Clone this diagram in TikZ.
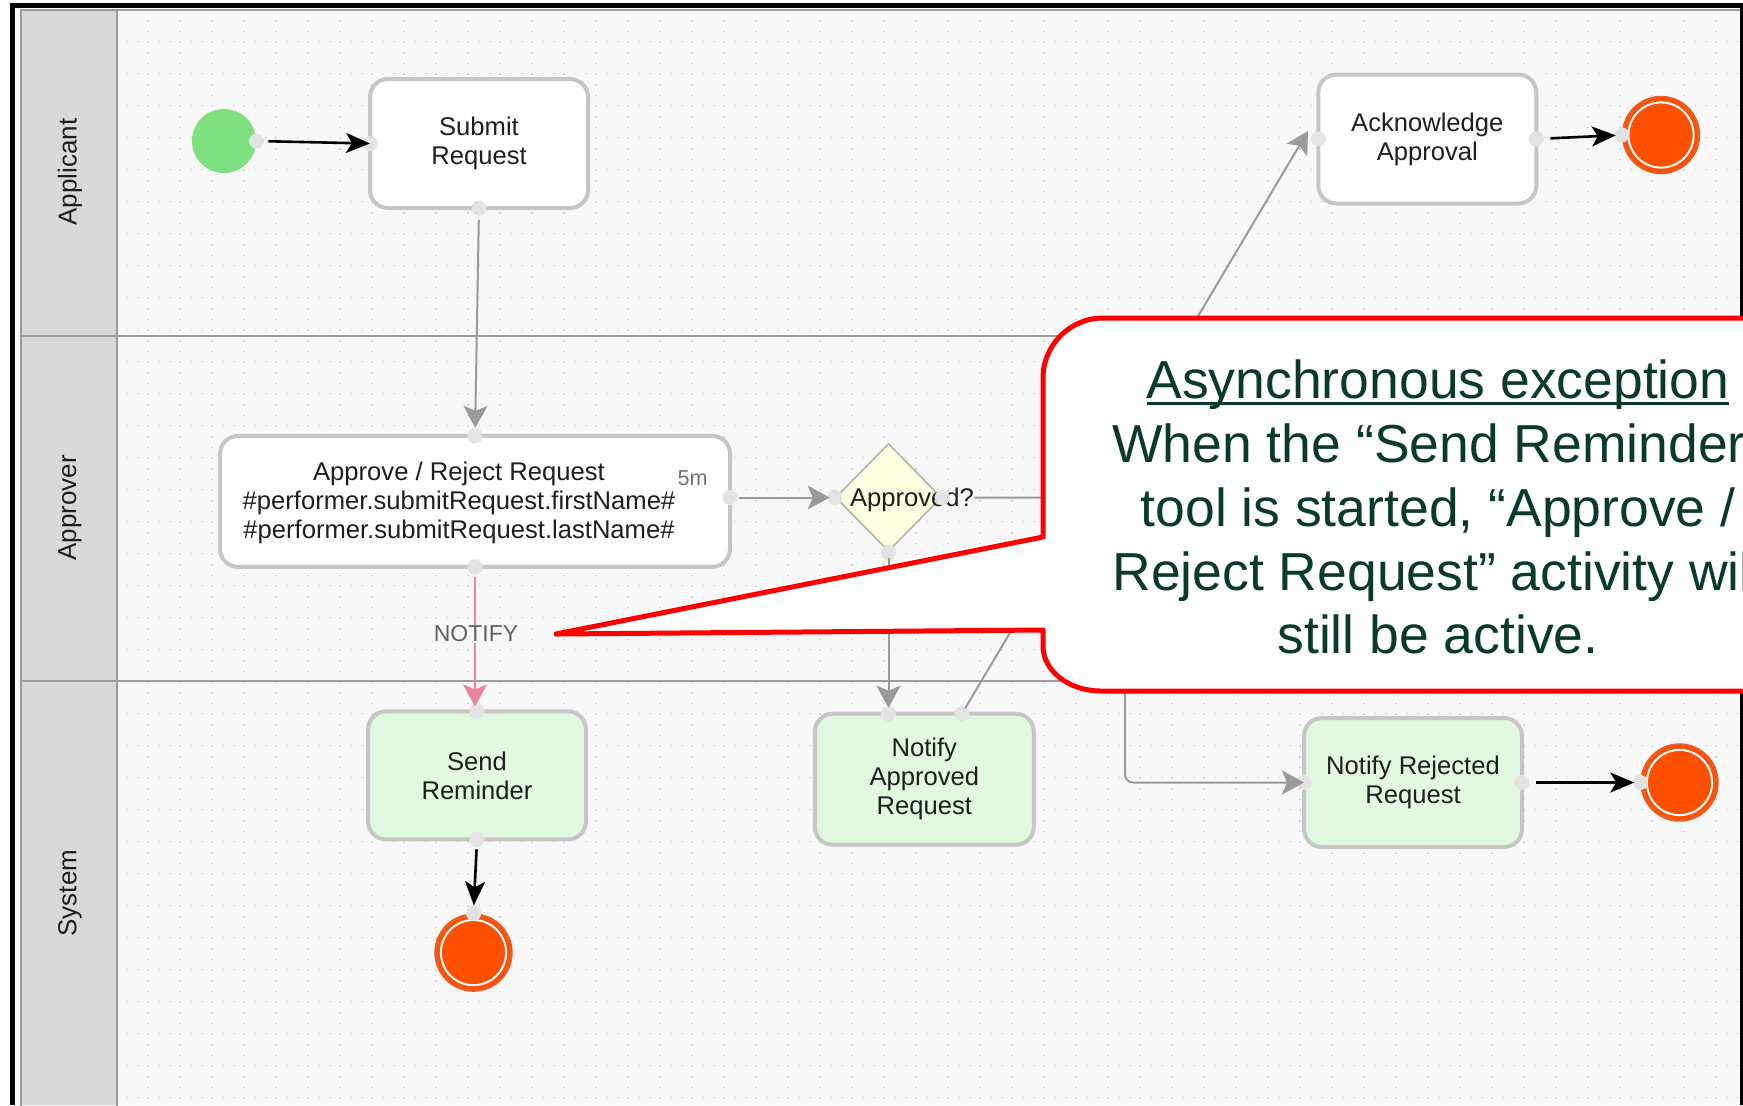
\documentclass[tikz,border=0pt]{standalone}
\usepackage{fontspec}
\setmainfont{Liberation Sans}
\usetikzlibrary{arrows.meta,shapes.geometric}
\definecolor{bgc}{HTML}{F8F8F8}
\definecolor{dotc}{HTML}{D2D2D2}
\definecolor{hdrc}{HTML}{D9D9D9}
\definecolor{lanec}{HTML}{9C9C9C}
\definecolor{boxgray}{HTML}{C6C6C6}
\definecolor{sysgreen}{HTML}{E2F8E0}
\definecolor{gwfill}{HTML}{FDFDE0}
\definecolor{gwdraw}{HTML}{B4B4A4}
\definecolor{conng}{HTML}{9A9A9A}
\definecolor{pinkc}{HTML}{E8849C}
\definecolor{portc}{HTML}{E3E3E3}
\definecolor{startg}{HTML}{7FE07F}
\definecolor{endo}{HTML}{FF5000}
\definecolor{endr}{HTML}{EE5A24}
\definecolor{txtc}{HTML}{1E1E1E}
\definecolor{calred}{HTML}{FF0000}
\definecolor{caltxt}{HTML}{0A3A2C}
\newcommand\myul[1]{\setbox0\hbox{#1}\rlap{\rule[-3.6pt]{\wd0}{1.7pt}}\box0}
\tikzset{
  task/.style={draw=boxgray, line width=2pt, rounded corners=9pt, fill=white,
    inner sep=0pt, outer sep=0pt, align=center, text=txtc,
    font=\fontsize{12.8}{14.5}\selectfont},
  systask/.style={task, fill=sysgreen},
  lbl/.style={inner sep=0pt, align=center, text=txtc, font=\fontsize{12.8}{14.5}\selectfont},
  lanelbl/.style={inner sep=0pt, rotate=90, text=txtc, font=\fontsize{13}{15}\selectfont},
  endev/.style={circle, fill=endo, draw=endr, line width=1.2pt, minimum size=38pt, inner sep=0pt},
  garrow/.style={draw=conng, line width=1pt, -{Stealth[length=11pt,width=12pt,inset=2.5pt]}},
  parrow/.style={draw=pinkc, line width=0.9pt, -{Stealth[length=11pt,width=12pt,inset=2.5pt]}},
  barrow/.style={draw=black, line width=1.3pt, -{Stealth[length=12pt,width=10pt,inset=3pt]}},
  gridln/.style={draw=dotc, line width=0.7pt, dash pattern=on 0.7pt off 4.633pt},
  caltext/.style={anchor=base, inner sep=0pt, text=caltxt, font=\fontsize{26.75}{32}\selectfont},
  portdot/.style={fill=portc}
}
\begin{document}
\begin{tikzpicture}[x=0.5pt,y=-0.5pt]
\useasboundingbox (0,0) rectangle (1743,1105);
\clip (0,0) rectangle (1743,1105);
\fill[white] (0,0) rectangle (1743,1105);
\fill[bgc] (117,10) rectangle (1743,1105);
% dotted grid
\foreach \k in {0,...,33} {
  \draw[gridln] (116,{41.7+32*\k}) -- (1743,{41.7+32*\k});
}
\foreach \k in {0,...,49} {
  \draw[gridln] ({148+32*\k},9.7) -- ({148+32*\k},1105);
}
% lanes
\fill[hdrc] (21,10) rectangle (117,1105);
\draw[lanec, line width=0.8pt] (21,1110) -- (21,10) -- (1745,10);
\draw[lanec, line width=0.8pt] (117,10) -- (117,1110);
\draw[lanec, line width=0.8pt] (21,336) -- (1745,336);
\draw[lanec, line width=0.8pt] (21,681) -- (1745,681);
% frame
\fill[black] (10,3) rectangle (15,1105);
\fill[black] (10,3) rectangle (1743,8);
\fill[black] (1740,3) rectangle (1743,1105);
% lane labels
\node[lanelbl] (lapp) at (70,172) {Applicant};
\node[lanelbl] (lappr) at (70,508) {Approver};
\node[lanelbl] (lsys) at (70,893) {System};
% nodes
\node[circle, fill=startg, minimum size=32pt, inner sep=0pt] (start) at (224,141) {};
\node[task, minimum width=109pt, minimum height=64.5pt] (submit) at (479,143.5) {Submit\\Request};
\node[task, minimum width=255pt, minimum height=65.5pt] (approve) at (475,501.4) {};
\node[lbl] (approvet) at (459,503) {Approve / Reject Request\\\#performer.submitRequest.firstName\#\\\#performer.submitRequest.lastName\#};
\node[inner sep=0pt, text=black!55, font=\fontsize{10.8}{12}\selectfont] (fivem) at (692.5,478) {5m};
\node[diamond, aspect=1, draw=gwdraw, fill=gwfill, line width=0.8pt, minimum width=53pt, minimum height=54pt, inner sep=0pt] (gw) at (888.5,497.5) {};
\node[lbl] (gwt) at (912,500) {Approved?};
\node[systask, minimum width=109.5pt, minimum height=65.5pt] (notA) at (924.3,779.2) {Notify\\Approved\\Request};
\node[systask, minimum width=109pt, minimum height=64pt] (send) at (477,775.4) {Send\\Reminder};
\node[task, minimum width=109pt, minimum height=64.5pt] (ack) at (1427.3,139) {Acknowledge\\Approval};
\node[systask, minimum width=109pt, minimum height=64.5pt] (rej) at (1413,782.5) {Notify Rejected\\Request};
\node[endev] (e1) at (473.5,952.6) {};
\node[endev] (e2) at (1661,135) {};
\node[endev] (e3) at (1679.5,782.5) {};
\foreach \e in {e1,e2,e3} { \draw[white, line width=1pt] (\e.center) circle[radius=16.3pt]; }
% coordinates
\coordinate (pA2) at (962,713.6);
\coordinate (ackIn) at (1308,131);
\coordinate (bendR) at (1125,497.5);
\coordinate (apE) at (approve.east |- gw.west);
% port dots
\foreach \p in {start.east, submit.west, submit.south, approve.north, apE, approve.south,
  gw.west, gw.east, gw.south, pA2, send.north, send.south, e1.north, ack.west, ack.east,
  e2.west, rej.west, rej.east, e3.west} {
  \fill[portdot] (\p) circle[radius=3.8pt];
}
\fill[portdot] (gw.south |- notA.north) circle[radius=3.8pt];
% connectors
\draw[barrow, shorten <=6pt] (start.east) -- (submit.west);
\draw[garrow, shorten <=6pt, shorten >=4pt] (submit.south) -- (approve.north);
\draw[garrow, shorten <=4.5pt, shorten >=2.5pt] (apE) -- (gw.west);
\draw[garrow, shorten <=16pt, rounded corners=4pt] (gw.east) -- (bendR) |- (rej.west);
\draw[garrow, shorten <=3pt, shorten >=3pt] (gw.south) -- (gw.south |- notA.north);
\draw[garrow, shorten <=3pt] (pA2) -- (ackIn);
\draw[parrow, shorten <=5pt, shorten >=2.5pt] (approve.south) -- (approve.south |- send.north);
\node[inner sep=0.6pt, fill=bgc, text=black!62, font=\fontsize{11.5}{13}\selectfont] (notify) at (476,634) {NOTIFY};
\draw[barrow, shorten <=5pt, shorten >=4pt] (send.south) -- (e1.north);
\draw[barrow, shorten <=7pt, shorten >=3pt] (ack.east) -- (e2.west);
\draw[barrow, shorten <=7pt, shorten >=3pt] (rej.east) -- (e3.west);
% callout
\draw[calred, line width=2.5pt, fill=white, line join=round]
  (1043,537) -- (556,634) -- (1043,630) -- (1043,646)
  .. controls (1043,671) and (1069,691) .. (1101,691) -- (1800,691) -- (1800,318)
  -- (1103,318) .. controls (1070,318) and (1043,345) .. (1043,378) -- cycle;
\node[caltext] (c1) at (1438,398) {\myul{Asynchronous exception}};
\node[caltext] (c2) at (1438,462.5) {When the “Send Reminder”};
\node[caltext] (c3) at (1438,526) {tool is started, “Approve /};
\node[caltext] (c4) at (1438,590.4) {Reject Request” activity will};
\node[caltext] (c5) at (1438,653.7) {still be active.};
\end{tikzpicture}
\end{document}
